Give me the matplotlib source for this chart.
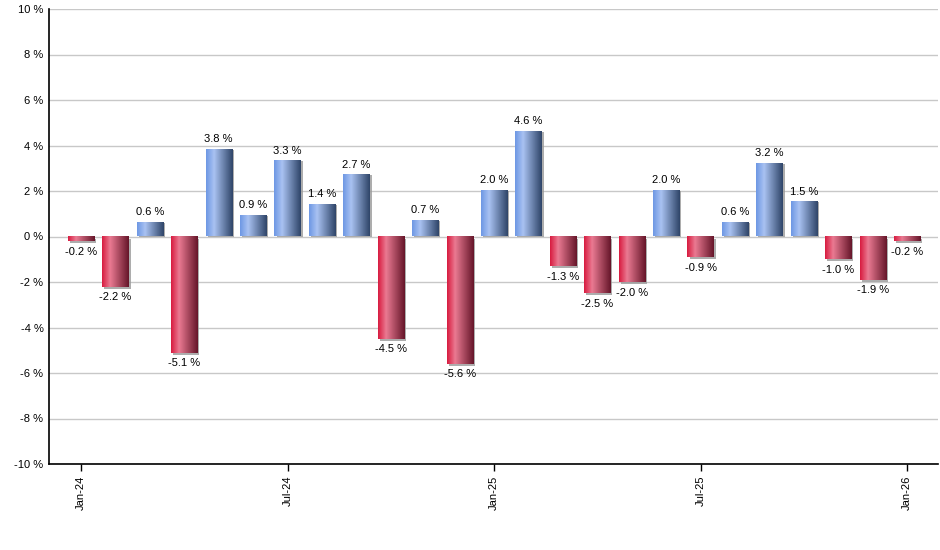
import numpy as np
import matplotlib
matplotlib.use("Agg")
import matplotlib.pyplot as plt
from matplotlib.colors import LinearSegmentedColormap
import matplotlib.patheffects as pe

months = ["Jan-24","Feb-24","Mar-24","Apr-24","May-24","Jun-24","Jul-24","Aug-24","Sep-24","Oct-24","Nov-24","Dec-24",
          "Jan-25","Feb-25","Mar-25","Apr-25","May-25","Jun-25","Jul-25","Aug-25","Sep-25","Oct-25","Nov-25","Dec-25","Jan-26"]
values = [-0.2, -2.2, 0.6, -5.1, 3.8, 0.9, 3.3, 1.4, 2.7, -4.5, 0.7, -5.6,
          2.0, 4.6, -1.3, -2.5, -2.0, 2.0, -0.9, 0.6, 3.2, 1.5, -1.0, -1.9, -0.2]
tick_labels = ["Jan-24", "Jul-24", "Jan-25", "Jul-25", "Jan-26"]
yticks = [-10, -8, -6, -4, -2, 0, 2, 4, 6, 8, 10]

plt.rcParams['font.family'] = ['Liberation Sans', 'DejaVu Sans']

fig = plt.figure(figsize=(9.4, 5.5), dpi=100)
ax = fig.add_axes([49/940, 1-464/550, (938-49)/940, (464-9)/550])

red_cmap = LinearSegmentedColormap.from_list("r", [(0, "#d81c40"), (0.3, "#ea7a92"), (1, "#66162a")])
blue_cmap = LinearSegmentedColormap.from_list("b", [(0, "#6e98e4"), (0.3, "#a9c2f2"), (1, "#2f4569")])
grad = np.linspace(0, 1, 64).reshape(1, -1)

x = np.arange(len(values))
w = 0.76
bars = ax.bar(x, values, width=w, color="none", edgecolor="none", zorder=2)
for xi, v, b in zip(x, values, bars):
    cmap = blue_cmap if v >= 0 else red_cmap
    off = (1.5, 0) if v >= 0 else (1.5, -1.5)
    sh = plt.Rectangle((xi - w/2, 0), w, v, facecolor="#000000", edgecolor="none", zorder=2,
                       path_effects=[pe.SimplePatchShadow(offset=off, shadow_rgbFace="#999999", alpha=0.8)])
    sh.set_alpha(0)
    ax.add_patch(sh)
    ax.imshow(grad, cmap=cmap, aspect="auto", extent=(xi - w/2, xi + w/2, 0, v),
              interpolation="bilinear", zorder=3)
    label = f"{v:.1f} %"
    if v >= 0:
        ax.annotate(label, (xi, v), xytext=(0, 4), textcoords="offset points",
                    ha="center", va="bottom", fontsize=8, zorder=4)
    else:
        ax.annotate(label, (xi, v), xytext=(0, -4), textcoords="offset points",
                    ha="center", va="top", fontsize=8, zorder=4)

ax.set_xlim(-0.93, 24.9)
ax.set_ylim(-10, 10)
ax.set_yticks(yticks)
ax.set_yticklabels([f"{t} %" for t in yticks], fontsize=8)
ax.tick_params(axis="y", length=0, pad=4)
ax.set_xticks([0, 6, 12, 18, 24])
ax.set_xticklabels(tick_labels, rotation=90, fontsize=8)
ax.tick_params(axis="x", length=5, width=1, direction="out", color="black")
ax.grid(axis="y", color="#c8c8c8", linewidth=1, zorder=0)
ax.set_axisbelow(True)
for s in ["top", "right"]:
    ax.spines[s].set_visible(False)
ax.spines["left"].set_linewidth(1.2)
ax.spines["bottom"].set_linewidth(1.2)

fig.savefig("out.png", dpi=100)
